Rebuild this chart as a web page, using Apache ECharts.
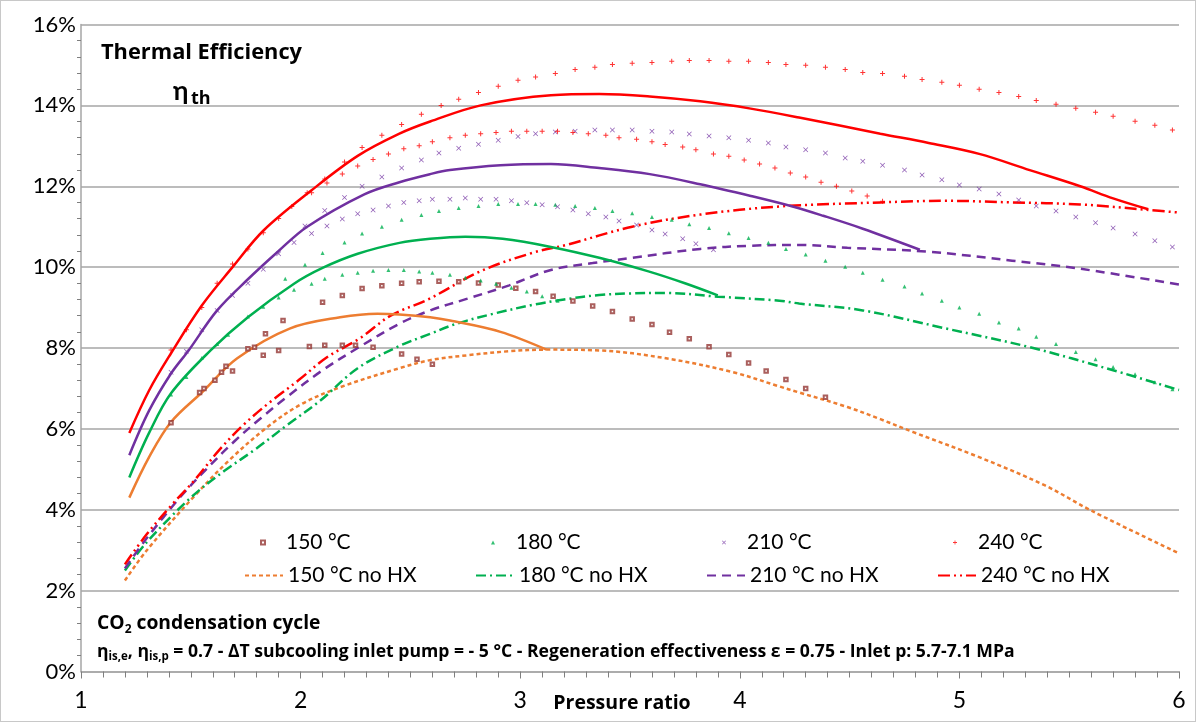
<!DOCTYPE html>
<html>
<head>
<meta charset="utf-8">
<script src="https://cdn.jsdelivr.net/npm/echarts@6/dist/echarts.min.js"></script>
<style>
html,body{margin:0;padding:0;background:#fff;}
#chart{width:1196px;height:722px;box-sizing:border-box;border:1px solid #c8c8c8;}
</style>
</head>
<body>
<div id="chart"></div>
<script>
// ---------- DATA ----------
var legendNames = ['150 °C','180 °C','210 °C','240 °C','150 °C no HX','180 °C no HX','210 °C no HX','240 °C no HX'];
var xTicks = [1,2,3,4,5,6];
var yTicks = [0,2,4,6,8,10,12,14,16];

// with HX, solid lines (pressure ratio, efficiency %)
var hx150 = [[1.22,4.3],[1.31,5.3],[1.41,6.17],[1.55,6.9],[1.71,7.74],[1.95,8.48],[2.18,8.76],[2.35,8.85],[2.45,8.83],[2.59,8.76],[2.68,8.68],[2.91,8.4],[3.12,7.96]];
var hx180 = [[1.22,4.8],[1.31,5.9],[1.41,6.88],[1.59,7.94],[1.76,8.76],[1.97,9.59],[2.1,9.98],[2.26,10.33],[2.45,10.6],[2.59,10.7],[2.75,10.75],[2.92,10.7],[3.14,10.5],[3.36,10.23],[3.58,9.9],[3.75,9.6],[3.9,9.3]];
var hx210 = [[1.22,5.35],[1.31,6.45],[1.41,7.37],[1.49,7.94],[1.62,8.93],[1.76,9.7],[1.9,10.4],[2.03,11.0],[2.29,11.8],[2.45,12.1],[2.59,12.3],[2.68,12.4],[2.91,12.52],[3.14,12.55],[3.36,12.45],[3.59,12.3],[3.82,12.05],[4.05,11.76],[4.24,11.5],[4.38,11.27],[4.56,10.95],[4.82,10.43]];
var hx240 = [[1.22,5.9],[1.31,6.95],[1.41,7.87],[1.55,9.05],[1.69,10.0],[1.83,10.9],[2.05,11.9],[2.26,12.75],[2.45,13.3],[2.59,13.6],[2.82,14.0],[3.14,14.25],[3.36,14.28],[3.59,14.22],[3.82,14.1],[4.05,13.92],[4.27,13.7],[4.64,13.3],[4.86,13.07],[5.09,12.8],[5.32,12.4],[5.55,12.0],[5.7,11.7],[5.86,11.43]];

// without HX
var nh150 = [[1.2,2.25],[1.3,3.0],[1.51,4.3],[1.68,5.25],[1.85,6.05],[2.0,6.6],[2.18,7.03],[2.45,7.5],[2.59,7.7],[2.76,7.82],[2.95,7.92],[3.12,7.96],[3.36,7.94],[3.67,7.74],[3.97,7.4],[4.18,7.05],[4.27,6.9],[4.49,6.54],[4.64,6.24],[4.79,5.92],[5.09,5.3],[5.39,4.6],[5.6,3.98],[6.0,2.92]];
var nh180 = [[1.2,2.5],[1.3,3.2],[1.5,4.3],[1.65,4.95],[1.79,5.48],[1.94,6.1],[2.09,6.7],[2.26,7.5],[2.45,8.05],[2.59,8.35],[2.71,8.6],[2.88,8.85],[3.06,9.07],[3.2,9.2],[3.36,9.31],[3.5,9.35],[3.67,9.36],[3.9,9.27],[4.18,9.17],[4.27,9.1],[4.56,8.93],[4.94,8.48],[5.32,8.02],[5.7,7.45],[6.0,6.96]];
var nh210 = [[1.2,2.55],[1.3,3.3],[1.45,4.3],[1.57,5.0],[1.7,5.7],[1.82,6.27],[1.94,6.8],[2.1,7.45],[2.26,8.0],[2.45,8.6],[2.59,8.93],[2.76,9.22],[2.95,9.55],[3.14,9.93],[3.33,10.1],[3.51,10.23],[3.82,10.45],[4.05,10.53],[4.27,10.55],[4.49,10.48],[4.86,10.38],[5.24,10.16],[5.55,9.96],[6.0,9.57]];
var nh240 = [[1.2,2.65],[1.3,3.4],[1.41,4.1],[1.52,4.75],[1.63,5.48],[1.74,6.1],[1.86,6.66],[1.99,7.2],[2.12,7.77],[2.27,8.24],[2.41,8.8],[2.58,9.2],[2.82,9.9],[3.06,10.36],[3.21,10.55],[3.51,11.0],[3.82,11.3],[4.18,11.5],[4.64,11.6],[4.94,11.64],[5.24,11.6],[5.55,11.55],[5.85,11.42],[6.0,11.35]];

// scatter points (with HX)
var pts150 = [[1.41,6.15],[1.54,6.9],[1.56,7.0],[1.61,7.2],[1.64,7.4],[1.66,7.55],[1.69,7.43],[1.76,7.98],[1.79,8.02],[1.83,7.82],[1.84,8.35],[1.9,7.94],[1.92,8.68],[2.04,8.04],[2.1,9.13],[2.11,8.07],[2.19,8.07],[2.19,9.3],[2.25,8.07],[2.28,9.47],[2.33,8.02],[2.37,9.54],[2.46,7.85],[2.46,9.6],[2.53,7.72],[2.54,9.64],[2.6,7.6],[2.63,9.65],[2.72,9.64],[2.81,9.61],[2.9,9.56],[2.98,9.48],[3.07,9.4],[3.15,9.28],[3.24,9.16],[3.33,9.04],[3.42,8.9],[3.51,8.72],[3.6,8.58],[3.68,8.39],[3.77,8.23],[3.86,8.03],[3.95,7.84],[4.04,7.63],[4.12,7.43],[4.21,7.22],[4.3,7.0],[4.39,6.78]];
var pts180 = [[1.41,6.85],[1.48,7.28],[1.55,7.75],[1.62,8.1],[1.67,8.33],[1.76,8.78],[1.83,9.02],[1.9,9.25],[1.93,9.71],[1.97,9.44],[2.02,10.06],[2.05,9.59],[2.1,10.35],[2.11,9.71],[2.19,9.81],[2.2,10.61],[2.26,9.86],[2.28,10.83],[2.33,9.91],[2.37,11.0],[2.4,9.93],[2.46,11.17],[2.47,9.93],[2.54,9.89],[2.55,11.29],[2.6,9.86],[2.63,11.39],[2.68,9.81],[2.72,11.46],[2.75,9.74],[2.81,11.51],[2.82,9.67],[2.89,9.59],[2.9,11.56],[2.96,9.49],[2.99,11.56],[3.03,9.4],[3.07,11.56],[3.1,9.28],[3.16,11.54],[3.17,9.17],[3.25,11.51],[3.34,11.46],[3.42,11.39],[3.51,11.33],[3.6,11.24],[3.69,11.17],[3.77,11.06],[3.86,10.97],[3.95,10.84],[4.04,10.72],[4.13,10.6],[4.21,10.45],[4.3,10.31],[4.39,10.16],[4.48,10.01],[4.56,9.86],[4.65,9.69],[4.75,9.52],[4.83,9.35],[4.92,9.17],[5.0,9.0],[5.09,8.85],[5.18,8.63],[5.27,8.48],[5.35,8.28],[5.44,8.1],[5.53,7.9],[5.62,7.72],[5.7,7.53],[5.8,7.35],[5.89,7.15],[5.97,6.98]];
var pts210 = [[1.41,7.4],[1.48,7.92],[1.55,8.45],[1.62,8.93],[1.69,9.3],[1.76,9.6],[1.83,9.95],[1.9,10.33],[1.97,10.61],[2.02,11.02],[2.05,10.83],[2.11,11.4],[2.12,11.02],[2.19,11.19],[2.2,11.72],[2.26,11.32],[2.28,12.0],[2.33,11.41],[2.37,12.23],[2.4,11.51],[2.46,12.45],[2.47,11.6],[2.54,11.64],[2.55,12.65],[2.6,11.68],[2.63,12.82],[2.68,11.68],[2.72,12.94],[2.75,11.71],[2.81,13.04],[2.82,11.68],[2.89,11.68],[2.9,13.14],[2.96,11.64],[2.99,13.23],[3.03,11.59],[3.07,13.3],[3.1,11.54],[3.16,13.34],[3.17,11.49],[3.24,11.41],[3.25,13.36],[3.31,11.32],[3.34,13.39],[3.39,11.24],[3.42,13.39],[3.45,11.14],[3.51,13.39],[3.53,11.04],[3.6,13.36],[3.6,10.92],[3.66,10.82],[3.69,13.34],[3.74,10.7],[3.77,13.29],[3.8,10.58],[3.86,13.24],[3.88,10.43],[3.95,13.2],[4.04,13.14],[4.13,13.07],[4.21,12.97],[4.3,12.9],[4.39,12.82],[4.48,12.7],[4.56,12.62],[4.65,12.52],[4.75,12.4],[4.83,12.28],[4.92,12.16],[5.0,12.03],[5.09,11.93],[5.18,11.81],[5.27,11.66],[5.35,11.51],[5.44,11.39],[5.53,11.24],[5.62,11.1],[5.7,10.97],[5.8,10.82],[5.89,10.65],[5.97,10.5]];
var pts240 = [[1.41,7.95],[1.48,8.45],[1.55,9.0],[1.62,9.6],[1.69,10.08],[1.76,10.45],[1.83,10.85],[1.9,11.2],[1.96,11.5],[2.03,11.84],[2.05,11.84],[2.11,12.18],[2.12,12.08],[2.19,12.3],[2.2,12.6],[2.26,12.5],[2.28,12.96],[2.33,12.66],[2.37,13.26],[2.4,12.8],[2.46,13.53],[2.47,12.93],[2.54,13.0],[2.55,13.78],[2.6,13.1],[2.64,14.0],[2.68,13.2],[2.72,14.15],[2.75,13.26],[2.81,14.32],[2.82,13.3],[2.89,13.33],[2.9,14.47],[2.96,13.36],[2.99,14.62],[3.03,13.36],[3.07,14.7],[3.1,13.36],[3.16,14.79],[3.17,13.36],[3.24,13.33],[3.25,14.89],[3.31,13.3],[3.34,14.94],[3.39,13.26],[3.42,15.01],[3.45,13.2],[3.51,15.04],[3.53,13.16],[3.6,15.06],[3.6,13.1],[3.66,13.03],[3.69,15.09],[3.74,12.97],[3.77,15.11],[3.8,12.9],[3.86,15.11],[3.88,12.8],[3.95,15.09],[3.95,12.74],[4.02,12.65],[4.04,15.09],[4.09,12.55],[4.13,15.06],[4.16,12.45],[4.21,15.01],[4.23,12.33],[4.3,14.99],[4.3,12.23],[4.37,12.1],[4.39,14.94],[4.44,12.0],[4.48,14.89],[4.51,11.88],[4.56,14.81],[4.58,11.76],[4.65,14.79],[4.65,11.63],[4.75,14.72],[4.83,14.64],[4.92,14.57],[5.0,14.5],[5.09,14.4],[5.18,14.32],[5.27,14.22],[5.35,14.12],[5.44,14.03],[5.53,13.93],[5.62,13.83],[5.7,13.73],[5.8,13.61],[5.89,13.51],[5.97,13.39]];

// ---------- STYLE ----------
var C150 = '#ED7D31', C180 = '#00B050', C210 = '#7030A0', C240 = '#FF0000', CM150 = '#953735';
var FONT = 'Lato, "Open Sans", sans-serif';
var BFONT = '"Open Sans", Lato, sans-serif';
var crossSym = 'path://M0,1L1,0L5,4L9,0L10,1L6,5L10,9L9,10L5,6L1,10L0,9L4,5Z';
var plusSym = 'path://M4,0H6V4H10V6H6V10H4V6H0V4H4Z';

function scatter(name, data, symbol, color, size) {
  return {name: name, type: 'scatter', data: data, symbol: symbol, symbolSize: size,
    itemStyle: {color: color, borderColor: color, borderWidth: symbol === 'emptyRect' ? 1 : 0}, z: 4, silent: true};
}
function line(name, data, color, dash, width) {
  return {name: name, type: 'line', data: data, smooth: 0.35, showSymbol: false, symbol: 'none',
    lineStyle: {color: color, width: width, type: dash, cap: 'butt'}, itemStyle: {color: color}, z: 3, silent: true};
}

var series = [
  scatter(legendNames[0], pts150, 'emptyRect', CM150, 3.5),
  scatter(legendNames[1], pts180, 'triangle', C180, 4),
  scatter(legendNames[2], pts210, crossSym, C210, 5),
  scatter(legendNames[3], pts240, plusSym, C240, 5),
  line(legendNames[4], nh150, C150, [4,3], 2.5),
  line(legendNames[5], nh180, C180, [10,4,2,4], 2.5),
  line(legendNames[6], nh210, C210, [9,6], 2.5),
  line(legendNames[7], nh240, C240, [12,4,2,4,2,4], 2.5),
  line('150 °C HX', hx150, C150, 'solid', 2.5),
  line('180 °C HX', hx180, C180, 'solid', 2.5),
  line('210 °C HX', hx210, C210, 'solid', 2.5),
  line('240 °C HX', hx240, C240, 'solid', 2.5)
];

var legends = [];
for (var k = 0; k < 4; k++) {
  legends.push({
    data: [legendNames[k]], orient: 'horizontal', left: 259 + 231 * k, top: 531, padding: 0,
    itemWidth: 4, itemHeight: 4, selectedMode: false,
    textStyle: {fontFamily: FONT, fontSize: 21, color: '#000', lineHeight: 20, padding: [0,0,0,16]}
  });
  legends.push({
    data: [legendNames[k + 4]], orient: 'horizontal', left: 243 + 231 * k, top: 564, padding: 0,
    itemWidth: 38, itemHeight: 12, selectedMode: false,
    itemStyle: {color: 'rgba(0,0,0,0)', borderColor: 'rgba(0,0,0,0)', borderWidth: 0},
    textStyle: {fontFamily: FONT, fontSize: 21, color: '#000', lineHeight: 20}
  });
}

var gridColor = '#a6a6a6';
var tickColor = '#7f7f7f';
var option = {
  animation: false,
  backgroundColor: '#fff',
  grid: {left: 80, right: 16, top: 23.5, bottom: 49.5},
  legend: legends,
  xAxis: {
    type: 'value', min: xTicks[0], max: xTicks[xTicks.length - 1], interval: 1,
    axisLine: {show: true, onZero: false, lineStyle: {color: gridColor, width: 1.5}},
    axisTick: {show: true, inside: false, length: 7, lineStyle: {color: tickColor, width: 1}},
    minorTick: {show: true, splitNumber: 10, length: 6, lineStyle: {color: tickColor, width: 1}},
    splitLine: {show: false},
    axisLabel: {fontFamily: FONT, fontSize: 23, color: '#000', margin: 18}
  },
  yAxis: {
    type: 'value', min: yTicks[0], max: yTicks[yTicks.length - 1], interval: 2,
    axisLine: {show: true, lineStyle: {color: gridColor, width: 1.5}},
    axisTick: {show: false},
    minorTick: {show: true, splitNumber: 5, length: 4, lineStyle: {color: tickColor}},
    splitLine: {show: true, lineStyle: {color: gridColor, width: 1.5}},
    axisLabel: {fontFamily: FONT, fontSize: 22, color: '#000', margin: 5, formatter: '{value}%'}
  },
  graphic: [
    {type: 'text', x: 100, y: 52, style: {text: 'Thermal Efficiency', font: 'bold 21.8px ' + BFONT, fill: '#000', verticalAlign: 'middle'}},
    {type: 'text', x: 172, y: 91, style: {text: 'η', font: 'bold 26px ' + FONT, fill: '#000', verticalAlign: 'middle'}},
    {type: 'text', x: 190, y: 98, style: {text: 'th', font: 'bold 18px ' + BFONT, fill: '#000', verticalAlign: 'middle'}},
    {type: 'text', x: 96, y: 623, style: {
      text: '{m|CO}{s|2}{m| condensation cycle}', fill: '#000', verticalAlign: 'middle',
      rich: {m: {font: 'bold 19.3px ' + BFONT, lineHeight: 24, verticalAlign: 'middle'},
             s: {font: 'bold 12px ' + BFONT, lineHeight: 12, verticalAlign: 'bottom'}}}},
    {type: 'text', x: 96, y: 651, style: {
      text: '{m|η}{s|is,e}{m|, η}{s|is,p}{m| = 0.7 - ΔT subcooling inlet pump = - 5 °C - Regeneration effectiveness ε = 0.75 - Inlet p: 5.7-7.1 MPa}',
      fill: '#000', verticalAlign: 'middle',
      rich: {m: {font: 'bold 17.6px ' + BFONT, lineHeight: 22, verticalAlign: 'middle'},
             s: {font: 'bold 11.5px ' + BFONT, lineHeight: 11, verticalAlign: 'bottom'}}}},
    {type: 'text', x: 621, y: 702, style: {text: 'Pressure ratio', font: 'bold 19.5px ' + BFONT, fill: '#000', align: 'center', verticalAlign: 'middle'}}
  ],
  series: series
};

var chart = echarts.init(document.getElementById('chart'), null, {renderer: 'canvas'});
chart.setOption(option);
</script>
</body>
</html>
